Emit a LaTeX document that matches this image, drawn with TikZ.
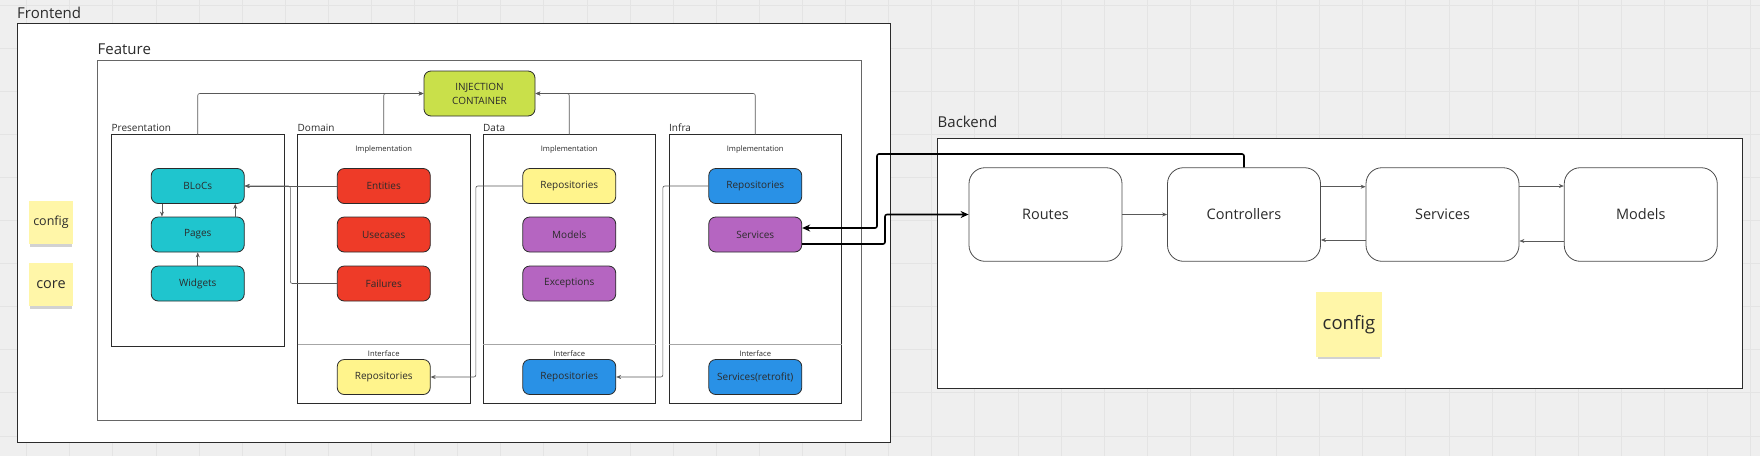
\documentclass[tikz,border=0pt]{standalone}
\usepackage{fontspec}
\setmainfont{Open Sans}
\usetikzlibrary{arrows.meta, shadows}

\definecolor{canvas}{HTML}{EFEFEF}
\definecolor{gridline}{HTML}{E4E4E4}
\definecolor{inkgray}{HTML}{2B2B2B}
\definecolor{blocscyan}{HTML}{1FC5CE}
\definecolor{domainred}{HTML}{EE3B28}
\definecolor{repoyellow}{HTML}{FFF48C}
\definecolor{datapurple}{HTML}{B565C1}
\definecolor{infrablue}{HTML}{2991E6}
\definecolor{injgreen}{HTML}{C9E04A}
\definecolor{stickyyellow}{HTML}{FFF6A8}

\begin{document}
\begin{tikzpicture}[x=1pt, y=-1pt, text=inkgray,
  panel/.style={draw=inkgray, line width=0.8pt, fill=white, inner sep=0pt, outer sep=0pt, anchor=north west},
  title/.style={anchor=base west, inner sep=0pt, font=\fontsize{15}{18}\selectfont},
  subtitle/.style={anchor=base west, inner sep=0pt, font=\fontsize{10}{12}\selectfont},
  tag/.style={inner sep=0pt, font=\fontsize{7.6}{9}\selectfont},
  comp/.style={draw=inkgray, line width=0.8pt, rounded corners=7pt, minimum width=93pt,
    minimum height=35pt, inner sep=0pt, font=\fontsize{10}{12}\selectfont},
  bnode/.style={draw=black!70, line width=0.8pt, fill=white, rounded corners=16pt,
    minimum width=153pt, minimum height=93.6pt, inner sep=0pt, font=\fontsize{14.5}{17}\selectfont},
  sticky/.style={fill=stickyyellow, inner sep=0pt,
    drop shadow={shadow xshift=0pt, shadow yshift=-4.5pt, shadow scale=0.95, opacity=0.35}},
  sepline/.style={draw=black!35, line width=0.8pt},
  link/.style={draw=black!65, line width=0.6pt, rounded corners=2pt, -{Stealth[length=5pt,width=4pt]}},
  wire/.style={draw=black, line width=1.6pt, rounded corners=2pt, -{Stealth[length=8pt,width=7pt]}}
]

% canvas and grid
\useasboundingbox (0,0) rectangle (1760,456);
\fill[canvas] (0,0) rectangle (1760,456);
\foreach \i in {0,...,40} {\draw[gridline, line width=0.8pt] ({26.6+43.1*\i},0) -- ++(0,456);}
\foreach \j in {0,...,10} {\draw[gridline, line width=0.8pt] (0,{4.9+43.1*\j}) -- ++(1760,0);}

% frontend
\node[title] (frontendlbl) at (17,18.3) {Frontend};
\node[panel, minimum width=873.7pt, minimum height=419pt] (frontend) at (17,23) {};
\node[title] (featurelbl) at (97.5,54.5) {Feature};
\node[panel, draw=black!60, minimum width=764.2pt, minimum height=360pt] (feature) at (97.5,60) {};

\node[sticky, minimum width=44pt, minimum height=43.5pt, font=\fontsize{12.5}{15}\selectfont] (config) at (51,222.4) {config};
\node[sticky, minimum width=44pt, minimum height=43.5pt, font=\fontsize{14.5}{17}\selectfont] (core) at (51,284.4) {core};

% layers
\node[subtitle] (preslbl) at (111.5,131.5) {Presentation};
\node[panel, minimum width=172.5pt, minimum height=211.5pt] (pres) at (111.5,134.5) {};
\node[subtitle] (domlbl) at (297.5,131.5) {Domain};
\node[panel, minimum width=172.5pt, minimum height=268.5pt] (domain) at (297.5,134.5) {};
\node[subtitle] (datalbl) at (483,131.5) {Data};
\node[panel, minimum width=172.5pt, minimum height=268.5pt] (data) at (483,134.5) {};
\node[subtitle] (infralbl) at (669,131.5) {Infra};
\node[panel, minimum width=172.5pt, minimum height=268.5pt] (infra) at (669,134.5) {};

\coordinate (sepy) at (0,344.5);
\coordinate (impy) at (0,150);
\coordinate (ify) at (0,354);
\foreach \p in {domain,data,infra} {
  \draw[sepline] (\p.west |- sepy) -- (\p.east |- sepy);
  \node[tag] at (\p.north |- impy) {Implementation};
  \node[tag] at (\p.north |- ify) {Interface};
}

\node[comp, fill=injgreen, minimum width=111pt, minimum height=45pt, align=center,
  font=\fontsize{10}{14}\selectfont] (inj) at (479.5,93.5) {INJECTION\\CONTAINER};

% presentation
\node[comp, fill=blocscyan] (blocs) at (197.75,186) {BLoCs};
\node[comp, fill=blocscyan] (pages) at (197.75,234.5) {Pages};
\node[comp, fill=blocscyan] (widgets) at (197.75,283.5) {Widgets};

% domain
\node[comp, fill=domainred] (entities) at (383.75,186) {Entities};
\node[comp, fill=domainred] (usecases) at (383.75,234.5) {Usecases};
\node[comp, fill=domainred] (failures) at (383.75,283.5) {Failures};
\node[comp, fill=repoyellow] (domrepo) at (383.75,377) {Repositories};

% data
\node[comp, fill=repoyellow] (datarepo) at (569.25,186) {Repositories};
\node[comp, fill=datapurple] (models) at (569.25,234.5) {Models};
\node[comp, fill=datapurple] (exceptions) at (569.25,283.5) {Exceptions};
\node[comp, fill=infrablue] (dataiface) at (569.25,377) {Repositories};

% infra
\node[comp, fill=infrablue] (infrarepo) at (755.25,186) {Repositories};
\node[comp, fill=datapurple] (infraserv) at (755.25,234.5) {Services};
\node[comp, fill=infrablue] (retrofit) at (755.25,377) {Services(retrofit)};

% links inside the feature
\draw[link] (pres.north) |- (inj.west);
\draw[link] (domain.north) |- (inj.west);
\draw[link] (data.north) |- (inj.east);
\draw[link] (infra.north) |- (inj.east);

\draw[link] (entities.west) -- (blocs.east);
\draw[link] (failures.west) -- ++(-46.5,0) |- (blocs.east);
\draw[link] ([xshift=-35.8pt]blocs.south) -- ([xshift=-35.8pt]pages.north);
\draw[link] ([xshift=37.5pt]pages.north) -- ([xshift=37.5pt]blocs.south);
\draw[link] (widgets.north) -- (pages.south);
\draw[link] (datarepo.west) -- ++(-46.5,0) |- (domrepo.east);
\draw[link] (infrarepo.west) -- ++(-45.5,0) |- (dataiface.east);

% backend
\node[title] (backendlbl) at (937.5,127) {Backend};
\node[panel, minimum width=804.3pt, minimum height=249.8pt] (backend) at (937.7,138.5) {};

\node[bnode] (routes) at (1045.5,214.5) {Routes};
\node[bnode] (controllers) at (1244,214.5) {Controllers};
\node[bnode] (bservices) at (1442.5,214.5) {Services};
\node[bnode] (bmodels) at (1640.75,214.5) {Models};

\node[sticky, minimum width=65.7pt, minimum height=64.7pt, font=\fontsize{18.5}{22}\selectfont] (bconfig) at (1348.9,324.4) {config};

\draw[link] (routes.east) -- (controllers.west);
\draw[link] ([yshift=27.8pt]controllers.east) -- ([yshift=27.8pt]bservices.west);
\draw[link] ([yshift=-25.5pt]bservices.west) -- ([yshift=-25.5pt]controllers.east);
\draw[link] ([yshift=28.5pt]bservices.east) -- ([yshift=28.5pt]bmodels.west);
\draw[link] ([yshift=-26.5pt]bmodels.west) -- ([yshift=-26.5pt]bservices.east);

% frontend <-> backend
\coordinate (callbend) at (877,154);
\coordinate (reqbend) at (885,214.5);
\draw[wire] (controllers.north) |- (callbend) |- ([yshift=6.5pt]infraserv.east);
\draw[wire] ([yshift=-9.5pt]infraserv.east) -| (reqbend) -- (routes.west);

\end{tikzpicture}
\end{document}
